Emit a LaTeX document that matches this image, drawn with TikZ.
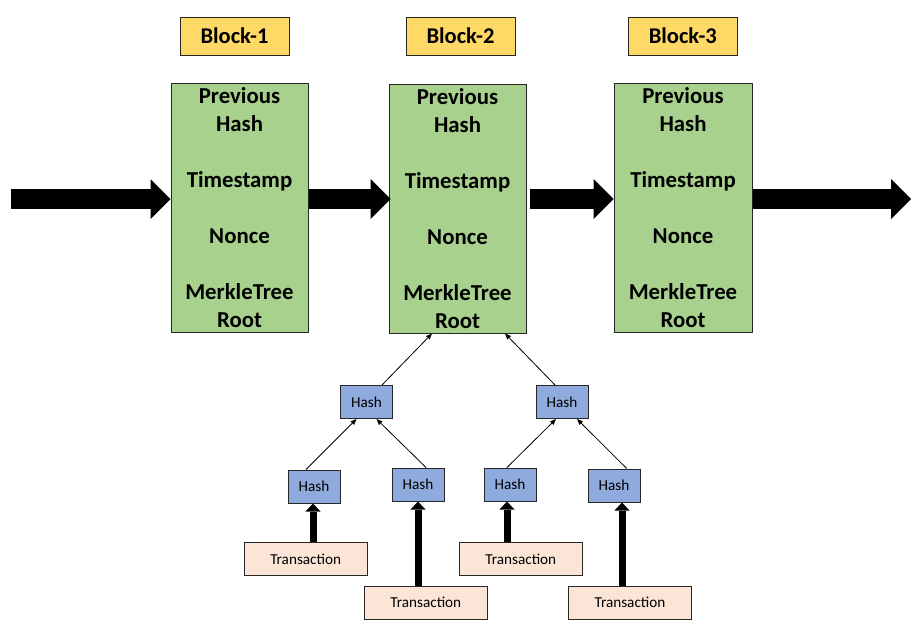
\documentclass[tikz,border=0pt]{standalone}
\usepackage{fontspec}
\setmainfont{Carlito}
\usetikzlibrary{arrows.meta}
\definecolor{gold}{HTML}{FFD966}
\definecolor{leaf}{HTML}{A9D18E}
\definecolor{hashblue}{HTML}{8FAADC}
\definecolor{txpeach}{HTML}{FBE5D6}
\definecolor{edge}{HTML}{262626}
\tikzset{
  labelbox/.style={draw=edge, line width=1pt, fill=gold, minimum width=109pt, minimum height=38pt, inner sep=0pt, font=\fontsize{22.5}{26}\selectfont\bfseries},
  blockbox/.style={draw=edge, line width=1pt, fill=leaf, minimum width=137pt, minimum height=249pt, inner sep=0pt, align=center, font=\fontsize{22.8}{27.9}\selectfont\bfseries},
  hashbox/.style={draw=edge, line width=1pt, fill=hashblue, minimum width=52pt, minimum height=33pt, inner sep=0pt, font=\fontsize{15.2}{17}\selectfont},
  txbox/.style={draw=edge, line width=1pt, fill=txpeach, minimum width=123pt, minimum height=33pt, inner sep=0pt, font=\fontsize{15.2}{17}\selectfont},
  bigarrow/.style={line width=20pt, -{Triangle[length=20pt,width=40pt,line width=0pt]}, black},
  midarrow/.style={line width=7pt, -{Triangle[length=8pt,width=15pt,line width=0pt]}, black},
  thinarrow/.style={line width=0.8pt, -{Triangle[length=6pt,width=5pt,line width=0pt]}, black}
}
\begin{document}
\begin{tikzpicture}[x=1pt,y=-1pt]
\useasboundingbox (0,0) rectangle (922,624);
% block labels
\node[labelbox] (L1) at (234.5,36) {Block-1};
\node[labelbox] (L2) at (460.5,36) {Block-2};
\node[labelbox] (L3) at (682.8,36) {Block-3};
% blocks
\node[blockbox] (B1) at (239.5,207.5) {Previous\\Hash\\~\\Timestamp\\~\\Nonce\\~\\MerkleTree\\Root};
\node[blockbox] (B2) at (457.5,208.5) {Previous\\Hash\\~\\Timestamp\\~\\Nonce\\~\\MerkleTree\\Root};
\node[blockbox, minimum width=138pt] (B3) at (683,207.5) {Previous\\Hash\\~\\Timestamp\\~\\Nonce\\~\\MerkleTree\\Root};
% chain arrows
\coordinate (cin) at (11,199);
\coordinate (cout) at (911,199);
\draw[bigarrow] (cin) -- (B1.west |- cin);
\draw[bigarrow] (B1.east |- cin) -- ([xshift=2pt]B2.west |- cin);
\draw[bigarrow] ([xshift=3pt]B2.east |- cin) -- (B3.west |- cin);
\draw[bigarrow] (B3.east |- cin) -- (cout);
% merkle tree hashes
\node[hashbox] (HL) at (366.5,402) {Hash};
\node[hashbox] (HR) at (562,402) {Hash};
\node[hashbox] (HLL) at (314,486.5) {Hash};
\node[hashbox] (HLR) at (418,484.5) {Hash};
\node[hashbox] (HRL) at (510,484.5) {Hash};
\node[hashbox] (HRR) at (614,485.5) {Hash};
% transactions
\node[txbox] (T1) at (305.7,558.8) {Transaction};
\node[txbox] (T2) at (425.8,602.5) {Transaction};
\node[txbox] (T3) at (520.8,558.8) {Transaction};
\node[txbox] (T4) at (630,602.5) {Transaction};
% transaction -> hash arrows
\coordinate (a1) at ([xshift=-1pt]HLL.south);
\coordinate (a2) at (HLR.south);
\coordinate (a3) at ([xshift=-3pt]HRL.south);
\coordinate (a4) at ([xshift=8pt]HRR.south);
\draw[midarrow] (a1 |- T1.north) -- (a1);
\draw[midarrow] (a2 |- T2.north) -- (a2);
\draw[midarrow] (a3 |- T3.north) -- (a3);
\draw[midarrow] (a4 |- T4.north) -- (a4);
% tree arrows
\draw[thinarrow] ([xshift=-8pt]HLL.north) -- ([xshift=-10pt]HL.south);
\draw[thinarrow] ([xshift=8pt]HLR.north) -- ([xshift=10pt]HL.south);
\draw[thinarrow] ([xshift=15.5pt]HL.north) -- ([xshift=-25.5pt]B2.south);
\draw[thinarrow] ([xshift=-7pt]HR.north) -- ([xshift=47.5pt]B2.south);
\draw[thinarrow] ([xshift=-3pt]HRL.north) -- ([xshift=-6pt]HR.south);
\draw[thinarrow] ([xshift=12.7pt]HRR.north) -- ([xshift=15pt]HR.south);
\end{tikzpicture}
\end{document}
